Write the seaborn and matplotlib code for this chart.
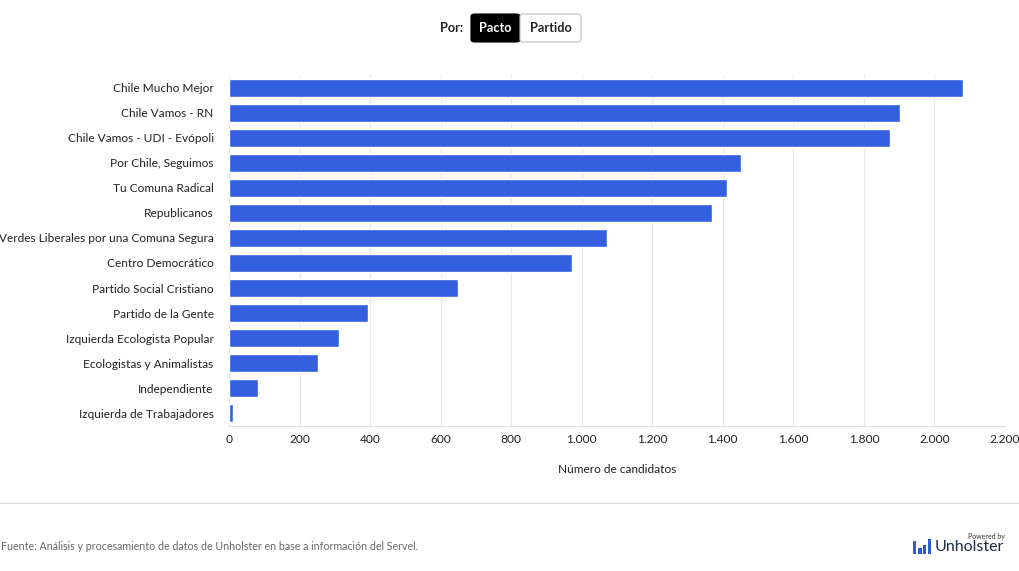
import matplotlib
matplotlib.use('Agg')
import matplotlib.pyplot as plt
import matplotlib.ticker as mticker
from matplotlib.patches import Rectangle, FancyBboxPatch
import seaborn as sns
import pandas as pd

# ─── data ───
pactos = ['Chile Mucho Mejor', 'Chile Vamos - RN', 'Chile Vamos - UDI - Evópoli',
          'Por Chile, Seguimos', 'Tu Comuna Radical', 'Republicanos',
          'Verdes Liberales por una Comuna Segura', 'Centro Democrático',
          'Partido Social Cristiano', 'Partido de la Gente',
          'Izquierda Ecologista Popular', 'Ecologistas y Animalistas',
          'Independiente', 'Izquierda de Trabajadores']
candidatos = [2081, 1902, 1874, 1452, 1412, 1369, 1072, 972, 649, 394, 312, 252, 82, 10]
x_ticks = list(range(0, 2201, 200))

df = pd.DataFrame({'Pacto': pactos, 'Candidatos': candidatos})

sns.set_theme(style='white')
plt.rcParams['font.family'] = ['Lato', 'DejaVu Sans']

fig = plt.figure(figsize=(10.2, 5.71), dpi=100)
ax = fig.add_axes([0.2245, 0.2548, 0.7608, 0.613])

sns.barplot(data=df, y='Pacto', x='Candidatos', color='#3460E0', width=0.72,
            saturation=1, ax=ax, zorder=3)

ax.set_xlim(0, 2200)
ax.set_xticks(x_ticks)
ax.xaxis.set_major_formatter(mticker.FuncFormatter(lambda v, p: f"{int(v):,}".replace(',', '.')))
ax.grid(axis='x', color='#E8E8E8', linewidth=0.8, zorder=0)
ax.grid(axis='y', visible=False)
for s in ['top', 'right', 'left']:
    ax.spines[s].set_visible(False)
ax.spines['bottom'].set_color('#E0E0E0')
ax.spines['bottom'].set_linewidth(0.8)
ax.tick_params(axis='both', length=0, labelsize=8.6, colors='#222222')
ax.tick_params(axis='y', pad=11)
ax.tick_params(axis='x', pad=6)
ax.set_ylabel('')
ax.set_xlabel('Número de candidatos', fontsize=8.6, color='#222222', labelpad=14)

# ─── selector at top ───
fig.text(463 / 1020, 1 - 28 / 571, 'Por:', ha='right', va='center',
         fontsize=9.2, fontweight='bold', color='#222222')
fig.patches.append(FancyBboxPatch((471 / 1020, 1 - 42 / 571), 49 / 1020, 28 / 571,
                                  boxstyle='round,pad=0,rounding_size=0.004',
                                  transform=fig.transFigure, facecolor='black',
                                  edgecolor='black', linewidth=0.8))
fig.patches.append(FancyBboxPatch((520 / 1020, 1 - 42 / 571), 61 / 1020, 28 / 571,
                                  boxstyle='round,pad=0,rounding_size=0.004',
                                  transform=fig.transFigure, facecolor='white',
                                  edgecolor='#BBBBBB', linewidth=0.8))
fig.text(495.5 / 1020, 1 - 28 / 571, 'Pacto', ha='center', va='center',
         fontsize=9.2, fontweight='bold', color='white')
fig.text(550.5 / 1020, 1 - 28 / 571, 'Partido', ha='center', va='center',
         fontsize=9.2, fontweight='bold', color='#222222')

# ─── footer ───
fig.add_artist(plt.Line2D([0, 1], [1 - 503 / 571, 1 - 503 / 571],
                          transform=fig.transFigure, color='#DDDDDD', linewidth=0.8))
fig.text(0.001, 1 - 546 / 571,
         'Fuente: Análisis y procesamiento de datos de Unholster en base a información del Servel.',
         ha='left', va='center', fontsize=7.65, color='#666666')

# logo
for x0, h in [(913, 13), (918.5, 6), (923, 9), (928, 15)]:
    fig.patches.append(Rectangle((x0 / 1020, 1 - 554 / 571), 3.5 / 1020, h / 571,
                                 transform=fig.transFigure, facecolor='#2F5BD9',
                                 edgecolor='none'))
fig.text(935 / 1020, 1 - 547 / 571, 'Unholster', ha='left', va='center',
         fontsize=11.5, color='#1F2A44')
fig.text(1005 / 1020, 1 - 537 / 571, 'Powered by', ha='right', va='center',
         fontsize=5, color='#333333')

fig.savefig('out.png', dpi=100)
